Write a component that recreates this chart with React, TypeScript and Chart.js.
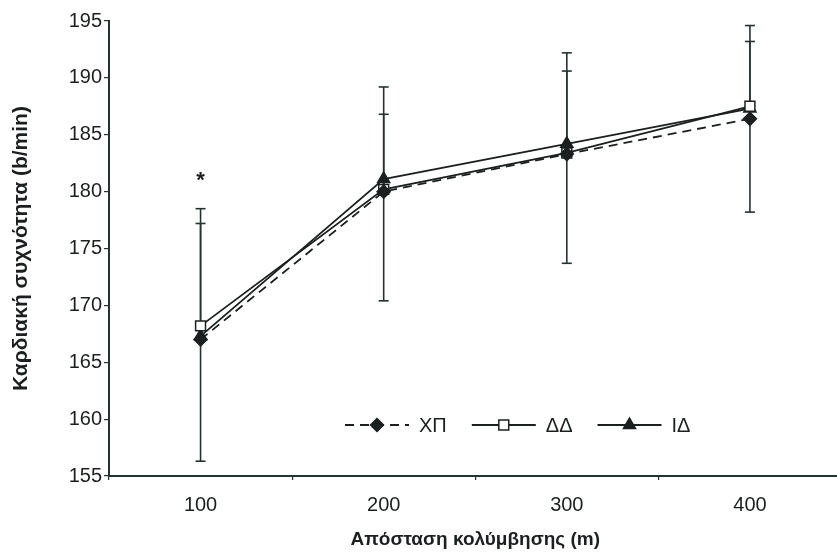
import React, { useEffect, useRef } from "react";
import { Chart, registerables } from "chart.js";

Chart.register(...registerables);

// ---------- data ----------
const categories = ["100", "200", "300", "400"];
const seriesLabels = ["ΧΠ", "ΔΔ", "ΙΔ"];
const valuesXP = [167.0, 180.0, 183.3, 186.4];
const valuesDD = [168.2, 180.2, 183.4, 187.5];
const valuesID = [167.3, 181.1, 184.2, 187.3];
const errUpperXP = [177.2, 186.8, 190.6, 193.2];
const errUpperDD = [178.5, 189.2, 192.2, 194.6];
const errLowerID = [156.3, 170.4, 173.7, 178.2];
const yMin = 155;
const yMax = 195;
const yStep = 5;
const sigCategories = ["100"];
const sigValues = [181.5];
const xTitle = "Απόσταση κολύμβησης (m)";
const yTitle = "Καρδιακή συχνότητα (b/min)";

const INK = "#1b1f1f";
const AXIS = "#263232";
const FONT = "'Liberation Sans', Arial, sans-serif";

function drawMarker(ctx: CanvasRenderingContext2D, style: string, x: number, y: number, r: number, fill: string, stroke: string, lw: number) {
  ctx.save();
  ctx.beginPath();
  if (style === "rectRot") {
    ctx.moveTo(x, y - r);
    ctx.lineTo(x + r, y);
    ctx.lineTo(x, y + r);
    ctx.lineTo(x - r, y);
    ctx.closePath();
  } else if (style === "rect") {
    const s = r * Math.SQRT1_2;
    ctx.rect(x - s, y - s, 2 * s, 2 * s);
  } else if (style === "triangle") {
    const h = r * 1.5;
    ctx.moveTo(x, y - r);
    ctx.lineTo(x + r * 0.866, y + h - r);
    ctx.lineTo(x - r * 0.866, y + h - r);
    ctx.closePath();
  }
  ctx.fillStyle = fill;
  ctx.fill();
  ctx.lineWidth = lw;
  ctx.strokeStyle = stroke;
  ctx.stroke();
  ctx.restore();
}

const errorBarPlugin = {
  id: "errorBars",
  beforeDatasetsDraw(chart: any) {
    const { ctx, scales } = chart;
    const xs = scales.x;
    const ys = scales.y;
    ctx.save();
    ctx.strokeStyle = AXIS;
    ctx.lineWidth = 1.6;
    chart.data.datasets.forEach((ds: any) => {
      const ups: number[] | undefined = ds.errUpper;
      const lows: number[] | undefined = ds.errLower;
      ds.data.forEach((v: number, i: number) => {
        const x = xs.getPixelForValue(i);
        const ym = ys.getPixelForValue(v);
        const ends: number[] = [];
        if (ups) ends.push(ys.getPixelForValue(ups[i]));
        if (lows) ends.push(ys.getPixelForValue(lows[i]));
        ends.forEach((ye) => {
          ctx.beginPath();
          ctx.moveTo(x, ym);
          ctx.lineTo(x, ye);
          ctx.stroke();
          ctx.beginPath();
          ctx.moveTo(x - 5, ye);
          ctx.lineTo(x + 5, ye);
          ctx.stroke();
        });
      });
    });
    ctx.restore();
  },
};

const sigPlugin = {
  id: "sigMarks",
  afterDatasetsDraw(chart: any) {
    const { ctx, scales } = chart;
    ctx.save();
    ctx.fillStyle = INK;
    ctx.font = `bold 22px ${FONT}`;
    ctx.textAlign = "center";
    ctx.textBaseline = "middle";
    sigCategories.forEach((c, i) => {
      const x = scales.x.getPixelForValue(categories.indexOf(c));
      const y = scales.y.getPixelForValue(sigValues[i]);
      ctx.fillText("*", x, y + 6);
    });
    ctx.restore();
  },
};

const lineLegendPlugin = {
  id: "lineLegend",
  afterDraw(chart: any) {
    const { ctx, chartArea } = chart;
    ctx.save();
    ctx.font = `20px ${FONT}`;
    ctx.textBaseline = "middle";
    ctx.textAlign = "left";
    let x = chartArea.left + 236;
    const y = chartArea.bottom - 51;
    chart.data.datasets.forEach((ds: any) => {
      const len = 64;
      ctx.save();
      ctx.strokeStyle = ds.borderColor;
      ctx.lineWidth = ds.borderWidth;
      ctx.setLineDash(ds.borderDash || []);
      ctx.beginPath();
      ctx.moveTo(x, y);
      ctx.lineTo(x + len, y);
      ctx.stroke();
      ctx.restore();
      drawMarker(ctx, ds.pointStyle, x + len / 2, y, ds.pointRadius, ds.pointBackgroundColor, ds.pointBorderColor, ds.pointBorderWidth);
      ctx.fillStyle = INK;
      ctx.fillText(ds.label, x + len + 10, y + 1);
      x += len + 10 + ctx.measureText(ds.label).width + 25;
    });
    ctx.restore();
  },
};

export default function App() {
  const canvasRef = useRef<HTMLCanvasElement | null>(null);

  useEffect(() => {
    document.documentElement.style.overflow = "hidden";
    document.body.style.overflow = "hidden";
    document.body.style.margin = "0";
    const canvas = canvasRef.current;
    if (!canvas) return;
    const common = {
      borderColor: INK,
      borderWidth: 1.8,
      pointBorderColor: INK,
      pointBorderWidth: 1.5,
      pointHoverRadius: 7,
      tension: 0,
      fill: false,
    };
    const chart = new Chart(canvas, {
      type: "line",
      data: {
        labels: categories,
        datasets: [
          {
            ...common,
            label: seriesLabels[0],
            data: valuesXP,
            borderDash: [9, 6],
            pointStyle: "rectRot",
            pointRadius: 6.5,
            pointBackgroundColor: INK,
            errUpper: errUpperXP,
          } as any,
          {
            ...common,
            label: seriesLabels[1],
            data: valuesDD,
            pointStyle: "rect",
            pointRadius: 7,
            pointBackgroundColor: "#ffffff",
            errUpper: errUpperDD,
          } as any,
          {
            ...common,
            label: seriesLabels[2],
            data: valuesID,
            pointStyle: "triangle",
            pointRadius: 7,
            pointBackgroundColor: INK,
            errLower: errLowerID,
          } as any,
        ],
      },
      options: {
        responsive: false,
        animation: false,
        layout: { padding: { top: 21, right: 8, left: 0, bottom: 0 } },
        plugins: {
          legend: { display: false },
          tooltip: { enabled: false },
        },
        scales: {
          x: {
            type: "category",
            offset: true,
            grid: {
              offset: true,
              drawOnChartArea: false,
              drawTicks: true,
              tickLength: 4,
              color: AXIS,
              lineWidth: 1.2,
            },
            border: { display: true, color: AXIS, width: 2 },
            ticks: { color: INK, font: { family: FONT, size: 20 }, padding: 13 },
            title: {
              display: true,
              text: xTitle,
              color: INK,
              font: { family: FONT, size: 19, weight: "bold" },
              padding: { top: 0, bottom: 2 },
            },
            afterFit(scale: any) {
              scale.height = 77;
            },
          },
          y: {
            min: yMin,
            max: yMax,
            ticks: { stepSize: yStep, color: INK, font: { family: FONT, size: 20 }, padding: 2 },
            grid: {
              drawOnChartArea: false,
              drawTicks: true,
              tickLength: 5,
              color: AXIS,
              lineWidth: 1.2,
            },
            border: { display: true, color: AXIS, width: 2 },
            title: {
              display: true,
              text: yTitle,
              color: INK,
              font: { family: FONT, size: 21, weight: "bold" },
              padding: { top: 9, bottom: 0 },
            },
            afterFit(scale: any) {
              scale.width = 109;
            },
          },
        },
      },
      plugins: [errorBarPlugin, sigPlugin, lineLegendPlugin],
    });
    return () => chart.destroy();
  }, []);

  return (
    <div style={{ position: "fixed", left: 0, top: 0, width: 850, height: 553, background: "#fff" }}>
      <canvas ref={canvasRef} width={850} height={553} style={{ display: "block" }} />
    </div>
  );
}
